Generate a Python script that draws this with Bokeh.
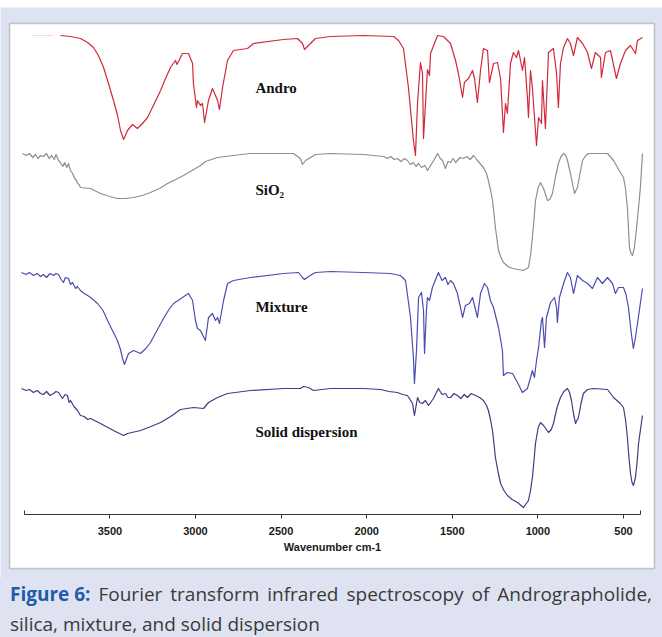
from bokeh.plotting import figure
from bokeh.models import Range1d, LinearAxis, FixedTicker, BoxAnnotation, Label, Div
from bokeh.layouts import column
from bokeh.embed import file_html
from bokeh.resources import INLINE

# ---------------- data (wavenumber cm-1, relative transmittance a.u.) ----------------
andro = [(3789,120),(3730,119),(3672,117),(3630,113),(3596,108),(3567,100),(3537,88),(3508,72),
         (3479,55),(3455,40),(3438,25),(3420,16),(3397,25),(3368,31),(3339,27),(3310,32),(3280,38),
         (3240,52),(3204,65),(3175,77),(3146,88),(3117,95),(3108,91),(3076,102),(3041,102),(3017,92),
         (3012,72),(2994,48),(2988,55),(2971,50),(2959,52),(2947,33),(2924,55),(2901,67),(2883,60),
         (2871,55),(2860,46),(2842,68),(2813,95),(2778,105),(2696,107),(2661,112),(2486,116),(2404,117),
         (2375,112),(2363,106),(2340,110),(2299,117),(2211,119),(2019,120),(1843,119),(1814,115),
         (1785,107),(1756,68),(1727,15),(1715,0),(1703,52),(1686,93),(1674,82),(1668,17),(1651,68),
         (1645,86),(1633,80),(1627,102),(1586,120),(1551,119),(1510,112),(1481,95),(1464,82),(1440,58),
         (1429,73),(1405,77),(1382,85),(1370,77),(1353,53),(1335,85),(1318,107),(1294,105),(1283,73),
         (1259,92),(1236,93),(1218,77),(1201,23),(1189,52),(1178,42),(1160,92),(1143,103),(1125,98),
         (1113,105),(1090,85),(1078,98),(1061,58),(1055,38),(1043,85),(1032,68),(1008,10),(996,38),
         (979,32),(973,75),(956,27),(938,103),(909,107),(891,82),(880,48),(868,92),(850,108),(827,117),
         (810,112),(792,100),(769,118),(739,112),(710,103),(687,87),(664,103),(634,98),(629,78),
         (605,103),(576,105),(541,77),(518,92),(488,105),(459,110),(430,102),(418,115),(389,118)]
andro_faint = [(3946,120),(3829,120)]

sio2 = [(4010,117),(3990,115),(3970,117),(3950,113),(3935,116),(3920,112),(3905,115),(3888,114),
        (3870,117),(3855,112),(3840,115),(3825,111),(3815,116),(3800,110),(3789,108),(3775,104),
        (3765,108),(3752,103),(3742,107),(3730,100),(3718,97),(3705,92),(3695,90),(3689,87),(3680,86),
        (3672,83),(3613,82),(3555,77),(3500,74),(3456,72),(3410,72),(3362,73),(3310,75),(3263,78),
        (3210,82),(3163,87),(3115,91),(3070,95),(3020,100),(2971,105),(2942,109),(2871,113),(2778,115),
        (2679,117),(2428,117),(2387,112),(2375,106),(2357,110),(2328,113),(2299,116),(2211,117),
        (2019,116),(1900,114),(1878,112),(1860,114),(1840,111),(1820,112),(1800,109),(1780,112),
        (1762,110),(1745,106),(1727,108),(1712,104),(1697,107),(1680,103),(1660,105),(1645,100),
        (1627,105),(1605,111),(1586,117),(1570,112),(1557,110),(1540,102),(1525,109),(1510,108),
        (1495,112),(1480,108),(1470,110),(1455,113),(1435,112),(1415,114),(1395,111),(1376,115),
        (1353,110),(1318,103),(1300,97),(1289,90),(1277,81),(1265,70),(1256,56),(1248,43),(1238,30),
        (1230,20),(1215,13),(1201,8),(1175,4),(1148,2),(1115,1),(1084,0),(1055,3),(1043,15),(1032,33),
        (1022,52),(1014,70),(998,83),(985,88),(967,82),(944,70),(930,71),(915,77),(898,93),(880,107),
        (865,114),(850,117),(837,115),(827,110),(812,99),(798,87),(786,77),(769,83),(755,96),(739,110),
        (720,115),(704,117),(652,117),(593,117),(558,110),(518,98),(500,93),(488,82),(477,63),(470,40),
        (465,23),(456,17),(447,15),(436,23),(425,40),(412,63),(401,83),(389,117)]

mixture = [(4016,120),(3990,118),(3970,120),(3946,117),(3925,119),(3905,116),(3888,118),(3870,115),
           (3850,119),(3829,117),(3815,119),(3800,118),(3785,113),(3771,110),(3760,115),(3742,114),
           (3730,108),(3718,110),(3700,104),(3690,106),(3672,102),(3650,99),(3630,97),(3613,95),
           (3572,89),(3540,82),(3514,72),(3485,62),(3456,52),(3440,44),(3426,34),(3415,28),(3391,39),
           (3362,42),(3321,39),(3290,44),(3263,50),(3225,62),(3187,74),(3155,83),(3128,89),(3076,95),
           (3041,99),(3017,92),(3000,72),(2988,64),(2971,62),(2942,52),(2924,75),(2901,79),(2883,72),
           (2871,75),(2860,69),(2836,92),(2813,109),(2778,112),(2679,115),(2486,119),(2398,120),
           (2375,115),(2363,113),(2340,116),(2299,120),(2211,121),(2019,120),(1861,119),(1803,117),
           (1773,112),(1744,75),(1727,35),(1721,9),(1709,42),(1697,95),(1680,100),(1668,82),(1662,39),
           (1651,82),(1645,95),(1633,92),(1616,105),(1581,120),(1560,112),(1540,115),(1525,108),
           (1510,112),(1493,109),(1470,99),(1452,85),(1440,75),(1423,87),(1400,89),(1382,95),(1370,87),
           (1353,75),(1335,99),(1312,109),(1294,105),(1277,92),(1259,85),(1230,65),(1207,42),(1201,17),
           (1178,20),(1148,19),(1119,10),(1090,0),(1061,4),(1043,15),(1032,22),(1020,15),(1008,32),
           (996,45),(979,72),(973,75),(961,45),(950,75),(926,90),(903,95),(891,85),(886,70),(874,95),
           (850,109),(827,120),(810,115),(792,99),(769,117),(739,112),(710,109),(681,104),(652,115),
           (623,109),(593,115),(564,109),(547,99),(529,105),(500,105),(485,98),(471,85),(455,60),
           (442,44),(430,55),(418,69),(389,104)]

solid = [(4016,119),(3990,117),(3970,118),(3946,115),(3925,117),(3905,114),(3888,113),(3870,116),
         (3850,112),(3829,114),(3815,116),(3800,115),(3777,109),(3762,113),(3748,112),(3738,105),
         (3730,107),(3710,101),(3689,97),(3672,92),(3650,91),(3630,88),(3613,89),(3555,84),(3479,77),
         (3420,72),(3397,74),(3321,77),(3260,81),(3204,85),(3145,91),(3088,98),(3012,100),(2953,99),
         (2924,105),(2871,110),(2813,114),(2679,117),(2486,119),(2387,119),(2369,121),(2340,120),
         (2311,117),(2211,119),(2019,119),(1919,118),(1870,116),(1820,115),(1790,113),(1762,112),
         (1732,104),(1721,92),(1703,110),(1690,105),(1674,104),(1657,107),(1639,102),(1610,109),
         (1581,119),(1560,113),(1540,114),(1525,110),(1510,110),(1490,114),(1470,112),(1450,109),
         (1430,113),(1411,110),(1390,114),(1364,112),(1340,110),(1318,107),(1300,102),(1289,97),
         (1277,88),(1265,77),(1256,63),(1248,50),(1233,36),(1218,24),(1198,17),(1178,12),(1150,8),
         (1119,5),(1084,0),(1055,7),(1043,17),(1032,30),(1022,48),(1014,64),(998,80),(985,85),(967,82),
         (938,75),(922,78),(909,84),(888,100),(868,110),(848,116),(827,119),(815,115),(804,107),
         (790,92),(780,84),(763,90),(748,104),(734,114),(710,118),(675,119),(593,118),(558,110),
         (518,104),(500,100),(488,88),(477,70),(468,50),(459,34),(450,25),(442,22),(430,30),(420,46),
         (412,64),(389,92)]

series_names = ["Andro", "SiO\u2082", "Mixture", "Solid dispersion"]
tick_values = [3500, 3000, 2500, 2000, 1500, 1000, 500]
x_title = "Wavenumber cm-1"
caption_label = "Figure 6:"
caption_line1 = "Fourier transform infrared spectroscopy of Andrographolide,"
caption_line2 = "silica, mixture, and solid dispersion"

# ---------------- layout / style ----------------
LAV = "#dfe3f1"
offsets = [423, 308, 186, 71]
colors = ["#d2283a", "#8e8e8e", "#4a4eb0", "#3c3e86"]
label_pos = [(2650, 491), (2650, 389), (2650, 272), (2650, 147)]

p = figure(width=662, height=578, output_backend="svg", toolbar_location=None,
           x_range=Range1d(4139, 272), y_range=Range1d(0, 571),
           x_axis_location=None, y_axis_location=None,
           min_border_left=0, min_border_right=0, min_border_bottom=0, min_border_top=7,
           background_fill_color=LAV, border_fill_color="white", outline_line_color=None)
p.grid.visible = False

p.add_layout(BoxAnnotation(left=4086, right=319, top=555, bottom=10, level="underlay",
                           fill_color="white", fill_alpha=1.0,
                           line_color="#5a5a5a", line_width=1.6))

for data, off, col in zip([andro, sio2, mixture, solid], offsets, colors):
    xs = [d[0] for d in data]
    ys = [d[1] + off for d in data]
    p.line(xs, ys, line_color=col, line_width=1.2, line_join="round")

p.line([d[0] for d in andro_faint], [d[1] + offsets[0] for d in andro_faint],
       line_color="#e58a96", line_width=1, line_dash="1 2")

for name, (lx, ly) in zip(series_names, label_pos):
    p.add_layout(Label(x=lx, y=ly, text=name, text_font="Liberation Serif",
                       text_font_style="bold", text_font_size="15px",
                       text_baseline="alphabetic", text_color="#111111"))

ax = LinearAxis(ticker=FixedTicker(ticks=tick_values), bounds=(400, 4000), fixed_location=64,
                axis_label=x_title)
ax.axis_line_color = "#333333"
ax.axis_line_width = 1
ax.major_tick_line_color = "#333333"
ax.major_tick_out = 4
ax.major_tick_in = 0
ax.minor_tick_out = 0
ax.minor_tick_in = 0
ax.major_label_standoff = 8
ax.major_label_text_font = "Liberation Sans"
ax.major_label_text_font_style = "bold"
ax.major_label_text_font_size = "11px"
ax.major_label_text_color = "#1a1a1a"
ax.axis_label_standoff = 3
ax.axis_label_text_font = "Liberation Sans"
ax.axis_label_text_font_style = "bold"
ax.axis_label_text_font_size = "11px"
ax.axis_label_text_color = "#1a1a1a"
p.add_layout(ax, "below")

caps = LinearAxis(ticker=FixedTicker(ticks=[400, 4000]), bounds=(400, 4000), fixed_location=64,
                  major_label_overrides={400: "", 4000: ""})
caps.axis_line_color = None
caps.major_tick_line_color = "#333333"
caps.major_tick_in = 4
caps.major_tick_out = 0
caps.minor_tick_out = 0
caps.minor_tick_in = 0
p.add_layout(caps, "below")

cap_html = ('<div style="width:662px;height:59px;box-sizing:border-box;padding:1px 10px 0 10px;'
            'background:%s;font-family:\'Open Sans\',sans-serif;font-size:19px;line-height:30px;'
            'color:#3a3a3a;margin:0;overflow:hidden;">'
            '<div style="text-align:justify;text-align-last:justify;white-space:nowrap;display:flex;'
            'justify-content:space-between;">'
            '<span style="color:#1f5ca9;font-weight:bold;">%s</span>%s</div>'
            '<div>%s</div></div>'
            % (LAV, caption_label,
               "".join("<span>%s</span>" % w for w in caption_line1.split(" ")),
               caption_line2))
div = Div(text=cap_html, width=662, height=59, margin=0, styles={"background-color": LAV})

layout = column(p, div, spacing=0)
open("out.html", "w").write(file_html(layout, INLINE))
